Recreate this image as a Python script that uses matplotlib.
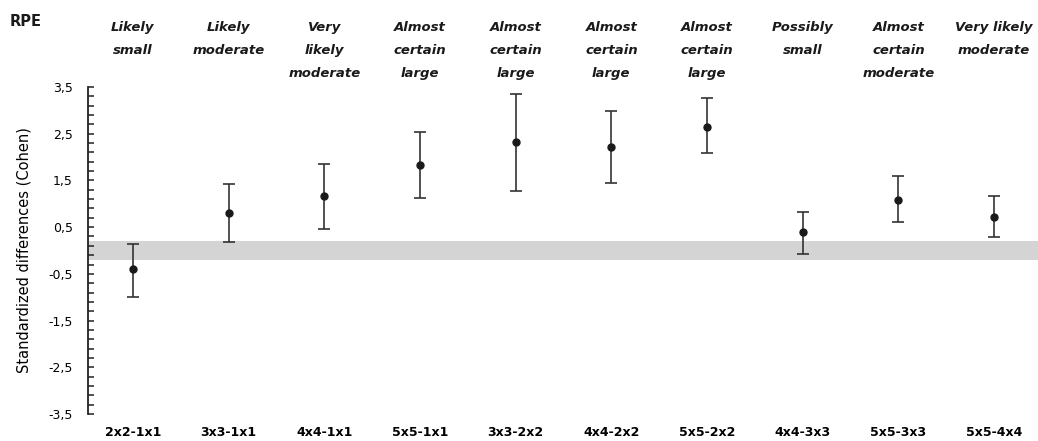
import numpy as np
import matplotlib
matplotlib.use('Agg')
import matplotlib.pyplot as plt
import matplotlib.transforms as mtransforms
from matplotlib.ticker import FuncFormatter, FixedLocator

# Comparisons and standardized differences (Cohen)
labels = ['2x2-1x1', '3x3-1x1', '4x4-1x1', '5x5-1x1', '3x3-2x2',
          '4x4-2x2', '5x5-2x2', '4x4-3x3', '5x5-3x3', '5x5-4x4']
effect = [-0.40, 0.80, 1.16, 1.82, 2.32, 2.22, 2.65, 0.40, 1.09, 0.72]
upper = [0.14, 1.42, 1.85, 2.54, 3.34, 2.98, 3.26, 0.83, 1.60, 1.16]
lower = [-0.99, 0.18, 0.47, 1.12, 1.28, 1.45, 2.08, -0.08, 0.62, 0.28]
verdict = ['Likely\nsmall', 'Likely\nmoderate', 'Very\nlikely\nmoderate',
           'Almost\ncertain\nlarge', 'Almost\ncertain\nlarge',
           'Almost\ncertain\nlarge', 'Almost\ncertain\nlarge',
           'Possibly\nsmall', 'Almost\ncertain\nmoderate',
           'Very likely\nmoderate']
trivial = (-0.2, 0.2)  # smallest worthwhile change band

x = np.arange(1, len(labels) + 1)
effect = np.array(effect)
yerr = [effect - np.array(lower), np.array(upper) - effect]

W, H = 1038, 441
fig = plt.figure(figsize=(W / 100, H / 100), dpi=100)
ax = fig.add_axes([88 / W, (H - 414) / H, (1038 - 88) / W, (414 - 87) / H])

ax.axhspan(trivial[0], trivial[1], color='#d4d4d4', lw=0, zorder=0)
ax.errorbar(x, effect, yerr=yerr, fmt='o', color='#1a1a1a', ecolor='#333333',
            markersize=5, elinewidth=1.2, capsize=4, capthick=1.2, zorder=3)

ax.set_xlim(0.53, 10.46)
ax.set_ylim(-3.5, 3.5)
ax.set_yticks(np.arange(-3.5, 3.6, 1.0))
ax.yaxis.set_minor_locator(FixedLocator(np.arange(-3.5, 3.51, 0.2)))
ax.yaxis.set_major_formatter(FuncFormatter(lambda v, p: f'{v:.1f}'.replace('.', ',')))
ax.tick_params(axis='y', which='both', direction='in', length=4, width=1.1,
               color='#222222', labelsize=9, pad=11)
ax.set_xticks(x)
ax.set_xticklabels(labels, fontweight='bold', fontsize=9)
ax.tick_params(axis='x', length=0, pad=9)

for s in ['top', 'right', 'bottom']:
    ax.spines[s].set_visible(False)
ax.spines['left'].set_linewidth(1.3)
ax.spines['left'].set_color('#222222')

ax.set_ylabel('Standardized differences (Cohen)', fontsize=10.5)
ax.yaxis.set_label_coords(-0.059, 0.5)

trans = mtransforms.blended_transform_factory(ax.transData, fig.transFigure)
for xi, txt in zip(x, verdict):
    ax.text(xi, 1 - 21 / H, txt, transform=trans, ha='center', va='top',
            fontsize=9.5, fontweight='bold', fontstyle='italic',
            linespacing=2.0, color='#1a1a1a')

fig.text(10 / W, 1 - 22 / H, 'RPE', fontsize=10.5, fontweight='bold',
         va='center', ha='left', color='#1a1a1a')

fig.savefig('out.png', dpi=100)
